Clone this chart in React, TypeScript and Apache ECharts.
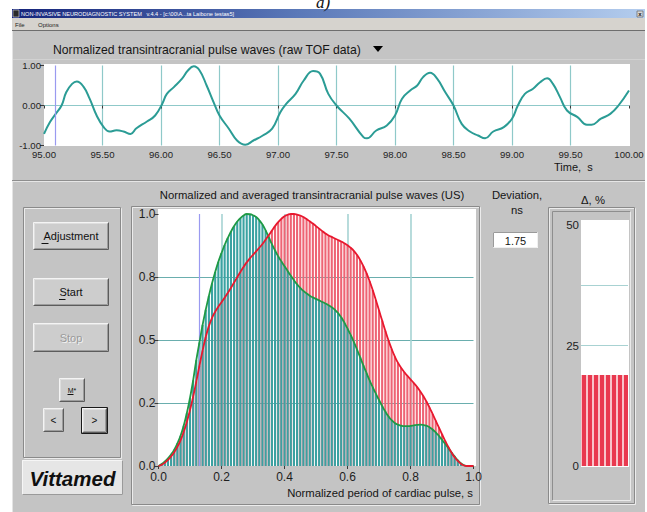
import React, { useEffect, useRef } from "react";
import * as echarts from "echarts";

// ---------- data ----------
const tofTime = [
  95.0, 95.05, 95.1, 95.15, 95.19, 95.24, 95.28, 95.34, 95.39, 95.45, 95.51, 95.56, 95.62, 95.68, 95.74, 95.79,
  95.88, 95.95, 96.01, 96.05, 96.11, 96.18, 96.23, 96.28, 96.33, 96.39, 96.45, 96.5, 96.58, 96.65, 96.72, 96.79,
  96.87, 96.95, 97.02, 97.07, 97.15, 97.22, 97.3, 97.36, 97.43, 97.5, 97.61, 97.73, 97.76, 97.84, 97.93, 98.0,
  98.06, 98.13, 98.19, 98.24, 98.3, 98.36, 98.43, 98.5, 98.57, 98.64, 98.71, 98.77, 98.84, 98.93, 99.0, 99.05,
  99.11, 99.18, 99.24, 99.3, 99.35, 99.41, 99.47, 99.56, 99.64, 99.68, 99.76, 99.84, 99.91, 100.0,
];
const tofValue = [
  -0.71, -0.42, -0.21, 0.0, 0.33, 0.54, 0.6, 0.46, 0.17, -0.25, -0.54, -0.65, -0.62, -0.65, -0.71, -0.57,
  -0.4, -0.25, 0.04, 0.29, 0.46, 0.67, 0.875, 0.98, 0.875, 0.5, 0.08, -0.25, -0.58, -0.875, -0.98, -0.875,
  -0.75, -0.58, -0.17, 0.04, 0.29, 0.625, 0.86, 0.79, 0.29, 0.0, -0.33, -0.79, -0.82, -0.625, -0.5, -0.25,
  0.17, 0.375, 0.5, 0.71, 0.82, 0.67, 0.33, 0.0, -0.46, -0.65, -0.75, -0.82, -0.65, -0.54, -0.33, 0.0,
  0.29, 0.42, 0.58, 0.68, 0.54, 0.21, -0.125, -0.29, -0.48, -0.48, -0.33, -0.21, 0.0, 0.375,
];
const tofCursor = 95.1;

const periodX = [
  0.0, 0.01, 0.02, 0.03, 0.04, 0.05, 0.06, 0.07, 0.08, 0.09, 0.1, 0.11, 0.12, 0.13, 0.14, 0.15, 0.16, 0.17, 0.18, 0.19,
  0.2, 0.21, 0.22, 0.23, 0.24, 0.25, 0.26, 0.27, 0.28, 0.29, 0.3, 0.31, 0.32, 0.33, 0.34, 0.35, 0.36, 0.37, 0.38, 0.39,
  0.4, 0.41, 0.42, 0.43, 0.44, 0.45, 0.46, 0.47, 0.48, 0.49, 0.5, 0.51, 0.52, 0.53, 0.54, 0.55, 0.56, 0.57, 0.58, 0.59,
  0.6, 0.61, 0.62, 0.63, 0.64, 0.65, 0.66, 0.67, 0.68, 0.69, 0.7, 0.71, 0.72, 0.73, 0.74, 0.75, 0.76, 0.77, 0.78, 0.79,
  0.8, 0.81, 0.82, 0.83, 0.84, 0.85, 0.86, 0.87, 0.88, 0.89, 0.9, 0.91, 0.92, 0.93, 0.94, 0.95, 0.96, 0.97, 0.98, 0.99,
  1.0,
];
const greenWave = [
  0.0, 0.008, 0.018, 0.03, 0.046, 0.065, 0.09, 0.12, 0.16, 0.21, 0.27, 0.34, 0.42, 0.49, 0.56, 0.62, 0.675, 0.725, 0.77, 0.81,
  0.845, 0.877, 0.905, 0.93, 0.952, 0.97, 0.984, 0.994, 1.0, 0.999, 0.995, 0.988, 0.975, 0.958, 0.935, 0.908, 0.88, 0.855, 0.832, 0.812,
  0.793, 0.774, 0.755, 0.737, 0.721, 0.707, 0.695, 0.685, 0.676, 0.669, 0.663, 0.657, 0.651, 0.645, 0.638, 0.63, 0.62, 0.607, 0.59, 0.569,
  0.545, 0.52, 0.493, 0.463, 0.432, 0.4, 0.37, 0.34, 0.313, 0.287, 0.262, 0.238, 0.216, 0.197, 0.182, 0.171, 0.164, 0.16, 0.158, 0.158,
  0.159, 0.161, 0.163, 0.164, 0.163, 0.16, 0.154, 0.145, 0.133, 0.12, 0.104, 0.088, 0.071, 0.054, 0.038, 0.023, 0.011, 0.003, 0.0, 0.0,
  0.0,
];
const redWave = [
  0.0, 0.005, 0.013, 0.024, 0.038, 0.055, 0.076, 0.102, 0.135, 0.175, 0.222, 0.275, 0.335, 0.398, 0.458, 0.512, 0.555, 0.588, 0.612, 0.632,
  0.65, 0.668, 0.687, 0.707, 0.728, 0.749, 0.77, 0.79, 0.808, 0.824, 0.838, 0.852, 0.866, 0.881, 0.898, 0.916, 0.934, 0.952, 0.968, 0.981,
  0.991, 0.997, 1.0, 1.0, 0.998, 0.994, 0.988, 0.98, 0.971, 0.962, 0.952, 0.942, 0.932, 0.923, 0.915, 0.909, 0.903, 0.897, 0.891, 0.884,
  0.876, 0.866, 0.854, 0.838, 0.818, 0.794, 0.766, 0.734, 0.698, 0.659, 0.618, 0.577, 0.537, 0.499, 0.465, 0.435, 0.41, 0.39, 0.373, 0.358,
  0.344, 0.33, 0.315, 0.298, 0.279, 0.257, 0.233, 0.207, 0.18, 0.153, 0.126, 0.1, 0.076, 0.054, 0.035, 0.02, 0.009, 0.002, 0.0, 0.0,
  0.0,
];
const periodCursor = 0.126;
const periodYTicks = [0, 0.25, 0.5, 0.75, 1];
const periodYLabels = ["0.0", "0.2", "0.5", "0.8", "1.0"];

const deltaCategories = ["Δ"];
const deltaValues = [18.9];
const deltaTickLabels = [0, 25, 50];
const deviationNs = "1.75";

// ---------- helpers ----------
const FONT = "'Liberation Sans', Arial, sans-serif";

function bevel(x: number, y: number, w: number, h: number, tl: string, br: string, z = -3): any[] {
  const x0 = x + 0.5, y0 = y + 0.5, x1 = x + w - 0.5, y1 = y + h - 0.5;
  return [
    { type: "polyline", z, silent: true, shape: { points: [[x0, y1], [x0, y0], [x1, y0]] }, style: { stroke: tl, lineWidth: 1 } },
    { type: "polyline", z, silent: true, shape: { points: [[x0, y1], [x1, y1], [x1, y0]] }, style: { stroke: br, lineWidth: 1 } },
  ];
}

function etched(x: number, y: number, w: number, h: number, z = -4): any[] {
  return [
    { type: "rect", z, silent: true, shape: { x: x + 1.5, y: y + 1.5, width: w - 1, height: h - 1 }, style: { fill: "none", stroke: "#ececec", lineWidth: 1 } },
    { type: "rect", z, silent: true, shape: { x: x + 0.5, y: y + 0.5, width: w - 1, height: h - 1 }, style: { fill: "none", stroke: "#8a8a8a", lineWidth: 1 } },
  ];
}

function txt(x: number, y: number, text: string, size: number, opts: any = {}): any {
  return {
    type: "text",
    z: 10,
    silent: true,
    x,
    y,
    style: {
      text,
      fontSize: size,
      fontFamily: opts.family || FONT,
      fontWeight: opts.weight || "normal",
      fontStyle: opts.style || "normal",
      fill: opts.fill || "#111",
      textAlign: opts.align || "left",
      textVerticalAlign: opts.valign || "middle",
    },
  };
}

function button(x: number, y: number, w: number, h: number, label: string, size: number, opts: any = {}): any[] {
  const els: any[] = [
    { type: "rect", z: -4, silent: true, shape: { x, y, width: w, height: h }, style: { fill: "#cdcdcd" } },
    ...bevel(x, y, w, h, "#f4f4f4", "#5c5c5c"),
    ...bevel(x + 1, y + 1, w - 2, h - 2, "#dedede", "#9c9c9c"),
  ];
  if (opts.focus) {
    els.push({ type: "rect", z: -2, silent: true, shape: { x: x - 0.5, y: y - 0.5, width: w + 1, height: h + 1 }, style: { fill: "none", stroke: "#1a1a1a", lineWidth: 1 } });
  }
  const cx = x + w / 2, cy = y + h / 2;
  if (opts.disabled) {
    els.push(txt(cx + 1, cy + 1, label, size, { align: "center", fill: "#f2f2f2" }));
    els.push(txt(cx, cy, label, size, { align: "center", fill: "#9a9a9a" }));
  } else {
    els.push(txt(cx, cy, label, size, { align: "center", fill: "#111" }));
  }
  if (opts.ul) {
    els.push({ type: "line", z: 10, silent: true, shape: { x1: opts.ul[0], y1: opts.ul[2], x2: opts.ul[1], y2: opts.ul[2] }, style: { stroke: "#111", lineWidth: 1 } });
  }
  return els;
}

const tickLabel = { color: "#1e1e1e", fontFamily: FONT };

export default function App() {
  const ref = useRef<HTMLDivElement>(null);

  useEffect(() => {
    document.body.style.margin = "0";
    if (!ref.current) return;
    const chart = echarts.init(ref.current, null, { renderer: "svg" });

    const graphics: any[] = [
      { type: "rect", z: -20, silent: true, shape: { x: 0, y: 0, width: 647, height: 512 }, style: { fill: "#ffffff" } },
      { type: "rect", z: -19, silent: true, shape: { x: 12, y: 9, width: 633, height: 503 }, style: { fill: "#c4c4c4" } },
      // "a)" caption at the very top (its upper part lies above the picture)
      txt(323, 2, "a)", 17, { family: "'Liberation Serif', 'DejaVu Serif', serif", style: "italic", align: "center" }),
      // title bar
      {
        type: "rect", z: -18, silent: true, shape: { x: 12, y: 9, width: 633, height: 9 },
        style: {
          fill: new echarts.graphic.LinearGradient(0, 0, 1, 0, [
            { offset: 0, color: "#14237a" },
            { offset: 0.45, color: "#5a78b8" },
            { offset: 1, color: "#b4cdee" },
          ]),
        },
      },
      { type: "rect", z: -17, silent: true, shape: { x: 13, y: 10, width: 6, height: 7 }, style: { fill: "#2a2a2a", stroke: "#e0e0e0", lineWidth: 0.6 } },
      txt(21, 13.7, "NON-INVASIVE NEURODIAGNOSTIC SYSTEM   v.4.4 - [c:\\00\\A...ta Laibone testas5]", 5.6, { fill: "#ffffff" }),
      { type: "rect", z: -17, silent: true, shape: { x: 637, y: 11, width: 6, height: 6 }, style: { fill: "#d8d8d8", stroke: "#555", lineWidth: 0.6 } },
      txt(640, 14, "x", 6, { align: "center", fill: "#111", weight: "bold" }),
      // menu bar
      { type: "rect", z: -18, silent: true, shape: { x: 12, y: 18, width: 633, height: 12 }, style: { fill: "#d6d3ce" } },
      txt(15, 24.5, "File", 6, { fill: "#222" }),
      txt(38, 24.5, "Options", 6, { fill: "#222" }),
      { type: "line", z: -17, silent: true, shape: { x1: 12, y1: 30.5, x2: 645, y2: 30.5 }, style: { stroke: "#6e6e6e", lineWidth: 1 } },
      { type: "line", z: -17, silent: true, shape: { x1: 12, y1: 59.5, x2: 645, y2: 59.5 }, style: { stroke: "#d2d2d2", lineWidth: 1 } },
      { type: "line", z: -17, silent: true, shape: { x1: 12.5, y1: 31, x2: 12.5, y2: 512 }, style: { stroke: "#e4e4e4", lineWidth: 1 } },
      // top chart header
      txt(53, 50, "Normalized transintracranial pulse waves (raw TOF data)", 12.2, { fill: "#151515" }),
      { type: "polygon", z: 10, silent: true, shape: { points: [[373, 46], [383, 46], [378, 52]] }, style: { fill: "#000" } },
      { type: "rect", z: -5, silent: true, shape: { x: 44, y: 64, width: 586, height: 82 }, style: { fill: "#ffffff" } },
      txt(554, 167, "Time,  s", 11, { fill: "#151515" }),
      // separator
      { type: "line", z: -17, silent: true, shape: { x1: 12, y1: 180.5, x2: 645, y2: 180.5 }, style: { stroke: "#8e8e8e", lineWidth: 1 } },
      { type: "line", z: -17, silent: true, shape: { x1: 12, y1: 181.5, x2: 645, y2: 181.5 }, style: { stroke: "#e6e6e6", lineWidth: 1 } },
      // left controls
      ...etched(23, 207, 98, 251),
      ...button(33, 222, 76, 28, "Adjustment", 11, { ul: [41.5, 48.5, 243.5] }),
      ...button(33, 278, 76, 28, "Start", 11, { ul: [59, 65.5, 299.5] }),
      ...button(33, 323, 76, 29, "Stop", 11, { disabled: true }),
      ...button(59, 378, 26, 24, "M*", 7, { ul: [67.5, 73.5, 394.5] }),
      ...button(43, 408, 21, 24, "<", 10),
      ...button(82, 408, 25, 25, ">", 10, { focus: true }),
      { type: "rect", z: -4, silent: true, shape: { x: 22, y: 460, width: 101, height: 35 }, style: { fill: "#e6e6e6" } },
      ...bevel(22, 460, 101, 35, "#f6f6f6", "#9a9a9a"),
      txt(72.5, 478, "Vittamed", 20.5, { weight: "bold", style: "italic", align: "center", fill: "#101010" }),
      // middle chart frame
      ...etched(131, 206, 349, 299),
      txt(312, 195, "Normalized and averaged transintracranial pulse waves (US)", 11.3, { align: "center", fill: "#151515" }),
      { type: "rect", z: -5, silent: true, shape: { x: 158, y: 209, width: 318, height: 257 }, style: { fill: "#ffffff" } },
      txt(473, 493, "Normalized period of cardiac pulse, s", 11.3, { align: "right", fill: "#151515" }),
      // deviation
      txt(517, 195, "Deviation,", 11.3, { align: "center", fill: "#151515" }),
      txt(517, 209.5, "ns", 11.3, { align: "center", fill: "#151515" }),
      { type: "rect", z: -4, silent: true, shape: { x: 493, y: 232, width: 45, height: 16 }, style: { fill: "#ffffff" } },
      ...bevel(493, 232, 45, 16, "#9a9a9a", "#f0f0f0"),
      txt(515.5, 240.5, deviationNs, 11, { align: "center", fill: "#151515" }),
      // delta panel
      txt(593, 199.5, "Δ, %", 11.3, { align: "center", fill: "#151515" }),
      ...etched(548, 207, 87, 297),
      ...bevel(552, 211, 79, 290, "#8e8e8e", "#eaeaea"),
      { type: "rect", z: -5, silent: true, shape: { x: 581, y: 220, width: 48, height: 247 }, style: { fill: "#ffffff" } },
    ];

    const option: any = {
      animation: false,
      grid: [
        { left: 44, top: 65.5, width: 585, height: 80 },
        { left: 158.5, top: 214, width: 315, height: 252 },
        { left: 581, top: 225, width: 47, height: 241 },
      ],
      xAxis: [
        {
          type: "value", gridIndex: 0, min: 95, max: 100, interval: 0.5,
          axisLine: { show: false },
          axisTick: { show: true, length: 3, lineStyle: { color: "#3a3a3a" } },
          axisLabel: { ...tickLabel, fontSize: 9.6, margin: 4, formatter: (v: number) => v.toFixed(2) },
          splitLine: { show: true, showMinLine: false, showMaxLine: false, lineStyle: { color: "#8fc9c9", width: 1.2 } },
        },
        {
          type: "value", gridIndex: 1, min: 0, max: 1, interval: 0.2,
          axisLine: { show: false },
          axisTick: { show: true, length: 3, lineStyle: { color: "#3a3a3a" } },
          axisLabel: { ...tickLabel, fontSize: 12, margin: 5, formatter: (v: number) => v.toFixed(1) },
          splitLine: { show: true, showMinLine: false, showMaxLine: false, lineStyle: { color: "#a6d3d3", width: 1.6 } },
        },
        {
          type: "category", gridIndex: 2, data: deltaCategories,
          axisLine: { show: false }, axisTick: { show: false }, axisLabel: { show: false }, splitLine: { show: false },
        },
      ],
      yAxis: [
        {
          type: "value", gridIndex: 0, min: -1, max: 1, interval: 1,
          axisLine: { show: false },
          axisTick: { show: true, length: 4, lineStyle: { color: "#3a3a3a" } },
          axisLabel: { ...tickLabel, fontSize: 9.6, margin: 3, formatter: (v: number) => v.toFixed(2) },
          splitLine: { show: true, showMinLine: false, showMaxLine: false, lineStyle: { color: "#8fc9c9", width: 1.2 } },
        },
        {
          type: "value", gridIndex: 1, min: 0, max: 1, interval: 0.25,
          axisLine: { show: false },
          axisTick: { show: true, length: 4, lineStyle: { color: "#3a3a3a" } },
          axisLabel: {
            ...tickLabel, fontSize: 12, margin: 3,
            formatter: (v: number) => {
              const i = periodYTicks.findIndex((t) => Math.abs(t - v) < 1e-6);
              return i >= 0 ? periodYLabels[i] : "";
            },
          },
          splitLine: { show: true, showMinLine: false, showMaxLine: false, lineStyle: { color: "#6aaeae", width: 1 } },
        },
        {
          type: "value", gridIndex: 2, min: 0, max: 50, interval: 12.5,
          axisLine: { show: false }, axisTick: { show: false },
          axisLabel: {
            ...tickLabel, fontSize: 11.5, margin: 2,
            formatter: (v: number) => (deltaTickLabels.some((t) => Math.abs(t - v) < 1e-6) ? String(v) : ""),
          },
          splitLine: { show: true, showMinLine: false, showMaxLine: false, lineStyle: { color: "#a8d2d2", width: 1.2 } },
        },
      ],
      series: [
        {
          type: "line", xAxisIndex: 0, yAxisIndex: 0, z: 4,
          data: tofTime.map((t, i) => [t, tofValue[i]]),
          smooth: 0.45, showSymbol: false, symbol: "none",
          lineStyle: { color: "#2b9c95", width: 2 },
          markLine: {
            silent: true, symbol: "none", label: { show: false },
            lineStyle: { color: "#9a9af0", type: "solid", width: 1.2 },
            data: [{ xAxis: tofCursor }],
          },
        },
        {
          type: "bar", xAxisIndex: 1, yAxisIndex: 1, z: 2,
          data: periodX.map((x, i) => [x, redWave[i]]),
          barWidth: 2.1, barGap: "-100%",
          itemStyle: { color: "#ee6474" },
          markLine: {
            silent: true, symbol: "none", label: { show: false },
            lineStyle: { color: "#9a9af0", type: "solid", width: 1.2 },
            data: [{ xAxis: periodCursor }],
          },
        },
        {
          type: "bar", xAxisIndex: 1, yAxisIndex: 1, z: 2,
          data: periodX.map((x, i) => [x, greenWave[i]]),
          barWidth: 2.1, barGap: "-100%",
          itemStyle: { color: "#3aa2a2" },
        },
        {
          type: "line", xAxisIndex: 1, yAxisIndex: 1, z: 5,
          data: periodX.map((x, i) => [x, greenWave[i]]),
          smooth: true, showSymbol: false, symbol: "none",
          lineStyle: { color: "#1f9a45", width: 1.8 },
        },
        {
          type: "line", xAxisIndex: 1, yAxisIndex: 1, z: 6,
          data: periodX.map((x, i) => [x, redWave[i]]),
          smooth: true, showSymbol: false, symbol: "none",
          lineStyle: { color: "#e8182e", width: 1.8 },
        },
        {
          type: "bar", xAxisIndex: 2, yAxisIndex: 2, z: 2,
          data: deltaValues,
          barWidth: "100%",
          itemStyle: {
            color: "#f8c4ca",
            decal: { symbol: "rect", symbolSize: 1, color: "#e9394f", dashArrayX: [4, 1.5], dashArrayY: [4, 0], rotation: 0 },
          },
        },
      ],
      graphic: { elements: graphics },
    };

    chart.setOption(option);
    return () => chart.dispose();
  }, []);

  return <div ref={ref} style={{ width: 647, height: 512 }} />;
}
